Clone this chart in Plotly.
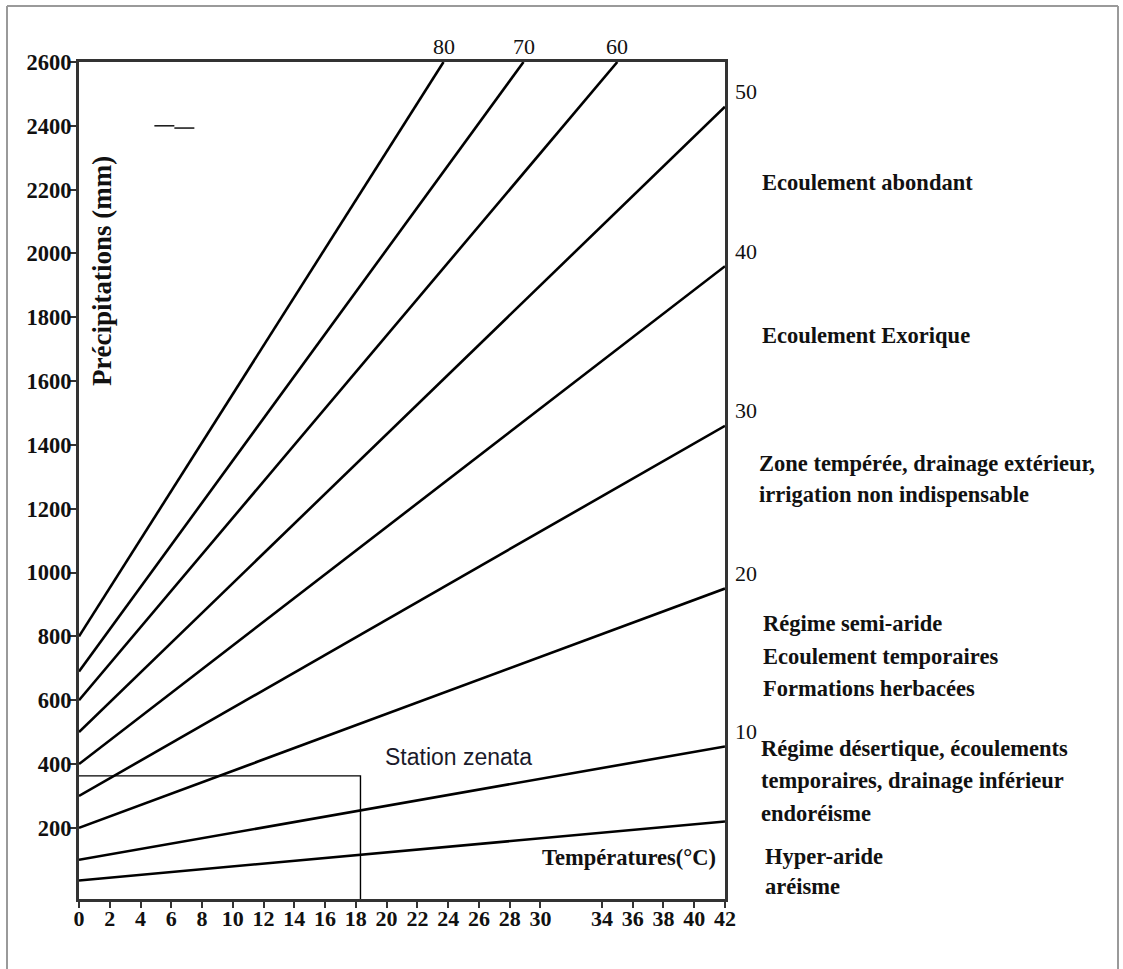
import plotly.graph_objects as go

# ---------------- data ----------------
T_RANGE = [0, 42]
P_RANGE = [-23, 2600]

aridity_index = [5, 10, 20, 30, 40, 50, 60, 70, 80]
p_at_t0 = [35, 100, 200, 300, 400, 500, 600, 690, 800]
t_end = [42, 42, 42, 42, 42, 42, 35.0, 28.9, 23.7]
p_end = [220, 455, 950, 1460, 1960, 2460, 2600, 2600, 2600]

labelled_right = [10, 20, 30, 40, 50]
labelled_top = [60, 70, 80]

x_tick_vals = [0, 2, 4, 6, 8, 10, 12, 14, 16, 18, 20, 22, 24, 26, 28, 30, 34, 36, 38, 40, 42]
y_tick_vals = [200, 400, 600, 800, 1000, 1200, 1400, 1600, 1800, 2000, 2200, 2400, 2600]

station_name = "Station zenata"
station_T = 18.3
station_P = 363

stray_T = [4.9, 6.2, None, 6.2, 7.5]
stray_P = [2400, 2400, None, 2393, 2393]

zone_lines = [
    "Ecoulement abondant",
    "Ecoulement Exorique",
    "Zone tempérée, drainage extérieur,",
    "irrigation non indispensable",
    "Régime semi-aride",
    "Ecoulement temporaires",
    "Formations herbacées",
    "Régime désertique, écoulements",
    "temporaires, drainage inférieur",
    "endoréisme",
    "Hyper-aride",
    "aréisme",
]
x_title = "Températures(°C)"
y_title = "Précipitations (mm)"

# ---------------- layout helpers (pixel placement) ----------------
W, H = 1123, 969
L, R, T, B = 79, 725, 62, 899


def px(x):
    return (x - L) / (R - L)


def py(y):
    return (B - y) / (B - T)


zone_pos = [(760, 183), (760, 335), (757, 463), (757, 494), (761, 623), (761, 656),
            (761, 688), (759, 748), (759, 780), (759, 813), (763, 856), (763, 886)]

SERIF = "Liberation Serif"
fig = go.Figure()

for i, idx in enumerate(aridity_index):
    fig.add_trace(go.Scatter(
        x=[0, t_end[i]], y=[p_at_t0[i], p_end[i]], mode="lines",
        line=dict(color="black", width=2.6), name=f"I = {idx}",
        showlegend=False, hoverinfo="skip"))

# station lines
fig.add_trace(go.Scatter(x=[0, station_T, station_T], y=[station_P, station_P, P_RANGE[0]],
                         mode="lines", line=dict(color="black", width=1.4),
                         showlegend=False, hoverinfo="skip"))
# stray mark
fig.add_trace(go.Scatter(x=stray_T, y=stray_P, mode="lines",
                         line=dict(color="black", width=1.4),
                         showlegend=False, hoverinfo="skip"))

ann = []
for i, idx in enumerate(aridity_index):
    if idx in labelled_right:
        ann.append(dict(x=t_end[i], y=p_end[i], xref="x", yref="y", text=str(idx),
                        showarrow=False, xanchor="left", yanchor="middle",
                        xshift=8, yshift=15,
                        font=dict(family=SERIF, size=22, color="#111")))
    if idx in labelled_top:
        ann.append(dict(x=t_end[i], y=p_end[i], xref="x", yref="y", text=str(idx),
                        showarrow=False, xanchor="center", yanchor="middle",
                        yshift=16,
                        font=dict(family=SERIF, size=22, color="#111")))

for txt, (x0, y0) in zip(zone_lines, zone_pos):
    ann.append(dict(x=px(x0), y=py(y0), xref="paper", yref="paper", text=f"<b>{txt}</b>",
                    showarrow=False, xanchor="left", yanchor="middle",
                    font=dict(family=SERIF, size=22.5, color="#111")))

ann.append(dict(x=px(718), y=py(857), xref="paper", yref="paper", text=f"<b>{x_title}</b>",
                showarrow=False, xanchor="right", yanchor="middle",
                font=dict(family=SERIF, size=22.5, color="#111")))
ann.append(dict(x=px(102), y=py(271), xref="paper", yref="paper", text=f"<b>{y_title}</b>",
                showarrow=False, xanchor="center", yanchor="middle", textangle=-90,
                font=dict(family=SERIF, size=27, color="#111")))
ann.append(dict(x=px(383), y=py(757), xref="paper", yref="paper", text=station_name,
                showarrow=False, xanchor="left", yanchor="middle",
                font=dict(family="Liberation Sans", size=23, color="#1a1a2a")))

shapes = [
    dict(type="line", xref="paper", yref="paper", x0=px(7), x1=px(7), y0=py(6), y1=py(H),
         line=dict(color="#9a9a9a", width=2)),
    dict(type="line", xref="paper", yref="paper", x0=px(7), x1=px(1118), y0=py(6), y1=py(6),
         line=dict(color="#9a9a9a", width=2)),
    dict(type="line", xref="paper", yref="paper", x0=px(1118), x1=px(1118), y0=py(6), y1=py(H),
         line=dict(color="#9a9a9a", width=2)),
]

fig.update_layout(
    width=W, height=H,
    margin=dict(l=L, r=W - R, t=T, b=H - B),
    paper_bgcolor="white", plot_bgcolor="white",
    annotations=ann, shapes=shapes, showlegend=False,
)
fig.update_xaxes(range=T_RANGE, tickvals=x_tick_vals,
                 ticktext=[f"<b>{v}</b>" for v in x_tick_vals],
                 showgrid=False, zeroline=False, showline=True, linecolor="#333",
                 linewidth=3, mirror=True, ticks="outside", ticklen=6, tickwidth=2,
                 tickcolor="#333", ticklabelstandoff=-8,
                 tickfont=dict(family=SERIF, size=22, color="#111"))
fig.update_yaxes(range=P_RANGE, tickvals=y_tick_vals,
                 ticktext=[f"<b>{v}</b>" for v in y_tick_vals],
                 showgrid=False, zeroline=False, showline=True, linecolor="#333",
                 linewidth=3, mirror=True, ticks="outside", ticklen=6, tickwidth=2,
                 tickcolor="#333", ticklabelstandoff=-6,
                 tickfont=dict(family=SERIF, size=22.5, color="#111"))

fig.write_html("out.html", config={"displayModeBar": False},
               post_script="document.body.style.margin='0';document.body.style.overflow='hidden';")
